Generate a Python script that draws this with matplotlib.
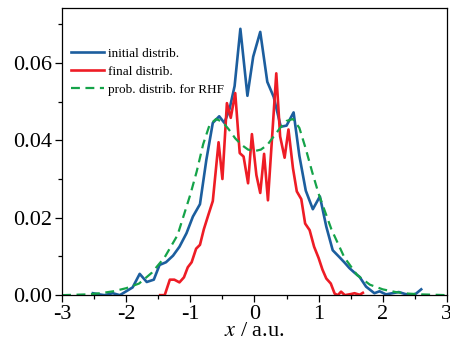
import numpy as np
import matplotlib.pyplot as plt
from matplotlib.ticker import MultipleLocator

plt.rcParams['font.family'] = ['Liberation Serif', 'DejaVu Serif']
plt.rcParams['mathtext.fontset'] = 'stix'

# initial distrib.
x_init = [-2.52, -2.42, -2.34, -2.21, -2.10, -2.00, -1.90, -1.79, -1.68, -1.57,
          -1.48, -1.38, -1.27, -1.17, -1.06, -0.96, -0.85, -0.75, -0.65, -0.55,
          -0.47, -0.39, -0.31, -0.22, -0.11, -0.02, 0.09, 0.20, 0.30, 0.41,
          0.50, 0.61, 0.70, 0.80, 0.91, 1.02, 1.12, 1.22, 1.32, 1.40,
          1.48, 1.56, 1.64, 1.74, 1.87, 1.95, 2.05, 2.15, 2.25, 2.35,
          2.45, 2.52, 2.60]
y_init = [0.0005, 0.0002, 0.0, 0.0005, 0.0, 0.001, 0.002, 0.0055, 0.0034, 0.004,
          0.0078, 0.0085, 0.0102, 0.0125, 0.016, 0.0203, 0.0235, 0.035, 0.0445, 0.0462,
          0.0445, 0.048, 0.054, 0.0688, 0.0515, 0.0616, 0.068, 0.0551, 0.0512, 0.0435,
          0.0438, 0.0472, 0.036, 0.027, 0.0222, 0.0255, 0.0177, 0.0116, 0.0099, 0.0085,
          0.007, 0.0058, 0.0047, 0.0022, 0.0005, 0.001, 0.0002, 0.0005, 0.0008, 0.0003,
          0.0, 0.0004, 0.0015]

# final distrib.
x_final = [-1.47, -1.40, -1.32, -1.25, -1.17, -1.10, -1.04, -0.98, -0.91, -0.85,
           -0.79, -0.72, -0.65, -0.56, -0.50, -0.43, -0.37, -0.30, -0.23, -0.17,
           -0.10, -0.04, 0.03, 0.09, 0.15, 0.21, 0.34, 0.40, 0.47, 0.53,
           0.60, 0.66, 0.73, 0.79, 0.86, 0.93, 1.00, 1.06, 1.12, 1.19,
           1.25, 1.30, 1.35, 1.41, 1.51, 1.56, 1.64, 1.69]
y_final = [0.0, 0.0, 0.004, 0.004, 0.0033, 0.0046, 0.0072, 0.0085, 0.012, 0.013,
           0.017, 0.0207, 0.0243, 0.0395, 0.030, 0.0496, 0.0458, 0.0522, 0.0367, 0.0358,
           0.0289, 0.0416, 0.031, 0.0264, 0.0365, 0.0245, 0.0573, 0.041, 0.0355, 0.0428,
           0.0328, 0.0268, 0.0248, 0.0185, 0.0168, 0.0125, 0.0096, 0.0066, 0.0043, 0.003,
           0.0004, 0.0, 0.0009, 0.0, 0.0003, 0.0005, 0.0001, 0.0006]

# prob. distrib. for RHF
x_rhf = [-3.0, -2.8, -2.6, -2.4, -2.2, -2.0, -1.8, -1.6, -1.4, -1.2,
         -1.0, -0.9, -0.8, -0.7, -0.6, -0.5, -0.4, -0.3, -0.2, -0.1,
         0.0, 0.1, 0.2, 0.3, 0.4, 0.5, 0.6, 0.7, 0.8, 0.9,
         1.0, 1.2, 1.4, 1.6, 1.8, 2.0, 2.2, 2.4, 2.6, 2.8, 3.0]
y_rhf = [0.0, 0.0001, 0.0002, 0.0005, 0.001, 0.0018, 0.003, 0.0058, 0.0098, 0.0155,
         0.026, 0.032, 0.039, 0.044, 0.0455, 0.0448, 0.0428, 0.0405, 0.0388, 0.0376,
         0.0372, 0.0376, 0.0388, 0.041, 0.0432, 0.045, 0.0455, 0.0432, 0.0378, 0.0318,
         0.0262, 0.017, 0.0098, 0.0052, 0.0027, 0.0015, 0.0008, 0.0004, 0.0002, 0.0001, 0.0]

fig = plt.figure(figsize=(4.5, 3.44), dpi=100)
ax = fig.add_axes([0.138, 0.142, 0.855, 0.835])

ax.plot(x_init, y_init, color='#1c5e9e', lw=1.9, label='initial distrib.')
ax.plot(x_final, y_final, color='#ee1c25', lw=1.9, label='final distrib.')
ax.plot(x_rhf, y_rhf, color='#15a349', lw=1.6, ls=(0, (4, 2.5)), label='prob. distrib. for RHF')

ax.set_xlim(-3, 3)
ax.set_ylim(0, 0.0742)
ax.xaxis.set_major_locator(MultipleLocator(1))
ax.xaxis.set_minor_locator(MultipleLocator(0.5))
ax.yaxis.set_major_locator(MultipleLocator(0.02))
ax.yaxis.set_minor_locator(MultipleLocator(0.01))
ax.tick_params(which='major', direction='out', length=5, width=0.9, labelsize=16, pad=2)
ax.tick_params(which='minor', direction='out', length=3, width=0.9)
ax.xaxis.set_major_formatter(plt.FuncFormatter(lambda v, p: '%d' % v))
ax.yaxis.set_major_formatter(plt.FuncFormatter(lambda v, p: '%.2f' % v))
for s in ax.spines.values():
    s.set_linewidth(0.9)

ax.set_xlabel(r'$x$ / a.u.', fontsize=16, labelpad=-1)

ax.legend(loc='upper left', bbox_to_anchor=(0.0, 0.895), frameon=False, fontsize=9.5,
          handlelength=2.5, handletextpad=0.3, labelspacing=0.45, borderaxespad=0.3)

fig.savefig('out.png', dpi=100)
